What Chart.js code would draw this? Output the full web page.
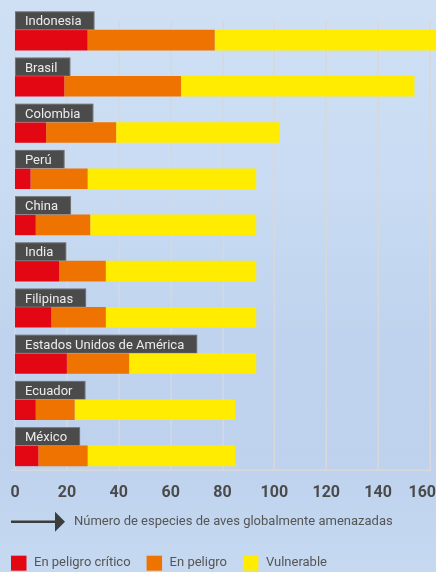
<!DOCTYPE html>
<html><head><meta charset="utf-8">
<script src="https://cdn.jsdelivr.net/npm/chart.js@4.4.1/dist/chart.umd.min.js"></script>
<style>
html,body{margin:0;padding:0;}
body{width:436px;height:572px;overflow:hidden;
background:linear-gradient(180deg,#cfe0f4 0%,#c9dcf3 30%,#bfd3ee 60%,#bed2ee 80%,#c6d9f1 100%);}
#wrap{position:relative;width:436px;height:572px;}
canvas{display:block;}
</style></head><body><div id="wrap"><canvas id="c" width="436" height="572"></canvas></div>
<script>
const countries = ['Indonesia','Brasil','Colombia','Perú','China','India','Filipinas','Estados Unidos de América','Ecuador','México'];
const critico    = [28, 19, 12,  6,  8, 17, 14, 20,  8,  9];
const peligro    = [49, 45, 27, 22, 21, 18, 21, 24, 15, 19];
const vulnerable = [88, 90, 63, 65, 64, 58, 58, 49, 62, 57];
const xTicks = [0, 20, 40, 60, 80, 100, 120, 140, 160];
const seriesNames = ['En peligro crítico', 'En peligro', 'Vulnerable'];
const seriesColors = ['#e30613', '#ef7300', '#ffec00'];
const axisTitle = 'Número de especies de aves globalmente amenazadas';

const FONT = 'Roboto, "Noto Sans", sans-serif';

const decor = {
  id: 'decor',
  beforeDatasetsDraw(chart) {
    const ctx = chart.ctx, xs = chart.scales.x, ca = chart.chartArea;
    const meta = chart.getDatasetMeta(0);
    const last = meta.data[meta.data.length - 1];
    const axisY = last.y + last.height / 2 + 4;
    ctx.save();
    ctx.strokeStyle = '#d6d8dc';
    ctx.lineWidth = 1.5;
    xTicks.forEach(v => {
      const x = Math.round(xs.getPixelForValue(v)) + 0.25;
      ctx.beginPath(); ctx.moveTo(x, ca.top + 4.5); ctx.lineTo(x, axisY); ctx.stroke();
    });
    ctx.beginPath(); ctx.moveTo(11, axisY); ctx.lineTo(xs.getPixelForValue(160) + 1, axisY); ctx.stroke();
    ctx.restore();
  },
  afterDatasetsDraw(chart) {
    const ctx = chart.ctx, xs = chart.scales.x;
    const meta = chart.getDatasetMeta(0);
    ctx.save();
    // category label boxes
    ctx.font = '13px ' + FONT;
    meta.data.forEach((el, i) => {
      const top = el.y - el.height / 2;
      const left = xs.getPixelForValue(0);
      const w = ctx.measureText(countries[i]).width + 23;
      ctx.fillStyle = '#4b4b4b';
      ctx.fillRect(left, top - 18.5, w, 18.5);
      ctx.strokeStyle = 'rgba(255,255,255,0.22)';
      ctx.lineWidth = 1;
      ctx.strokeRect(left + 0.5, top - 18, w - 1, 18);
      ctx.fillStyle = '#ececec';
      ctx.textBaseline = 'alphabetic';
      ctx.textAlign = 'left';
      ctx.fillText(countries[i], left + 10, top - 4.5);
    });
    const last = meta.data[meta.data.length - 1];
    const axisY = last.y + last.height / 2 + 4;
    // tick labels
    ctx.font = 'bold 16px ' + FONT;
    ctx.fillStyle = '#4a4a4a';
    xTicks.forEach(v => {
      const s = String(v);
      const w = ctx.measureText(s).width;
      let x = xs.getPixelForValue(v) - w / 2;
      if (x + w > chart.width) x = chart.width - w;
      ctx.fillText(s, x, axisY + 26.5);
    });
    // axis title with arrow
    const ty = axisY + 51.5;
    ctx.strokeStyle = '#3c3c3c';
    ctx.fillStyle = '#3c3c3c';
    ctx.lineWidth = 2.5;
    ctx.beginPath(); ctx.moveTo(11, ty); ctx.lineTo(57, ty); ctx.stroke();
    ctx.beginPath(); ctx.moveTo(55, ty - 10); ctx.lineTo(65, ty); ctx.lineTo(55, ty + 10); ctx.closePath(); ctx.fill();
    ctx.font = '13px ' + FONT;
    ctx.fillStyle = '#555555';
    ctx.textBaseline = 'middle';
    ctx.fillText(axisTitle, 74, ty);
    // legend
    const ly = axisY + 93;
    ctx.font = '13px ' + FONT;
    let lx = 11;
    chart.data.datasets.forEach((ds, i) => {
      ctx.fillStyle = ds.backgroundColor;
      ctx.fillRect(lx, ly - 7.5, 15.5, 15);
      ctx.fillStyle = '#555555';
      ctx.fillText(ds.label, lx + 23, ly);
      lx += 23 + ctx.measureText(ds.label).width + 16;
    });
    ctx.restore();
  }
};

new Chart(document.getElementById('c'), {
  type: 'bar',
  data: {
    labels: countries,
    datasets: [
      { label: seriesNames[0], data: critico, backgroundColor: seriesColors[0] },
      { label: seriesNames[1], data: peligro, backgroundColor: seriesColors[1] },
      { label: seriesNames[2], data: vulnerable, backgroundColor: seriesColors[2], clip: false }
    ]
  },
  options: {
    indexAxis: 'y',
    responsive: false,
    animation: false,
    devicePixelRatio: 1,
    layout: { padding: { left: 15, right: 6, top: 17, bottom: 93 } },
    datasets: { bar: { categoryPercentage: 1, barPercentage: 0.445, borderWidth: 0 } },
    scales: {
      x: { display: false, stacked: true, min: 0, max: 160 },
      y: { display: false, stacked: true }
    },
    plugins: { legend: { display: false }, tooltip: { enabled: false } }
  },
  plugins: [decor]
});
</script></body></html>
